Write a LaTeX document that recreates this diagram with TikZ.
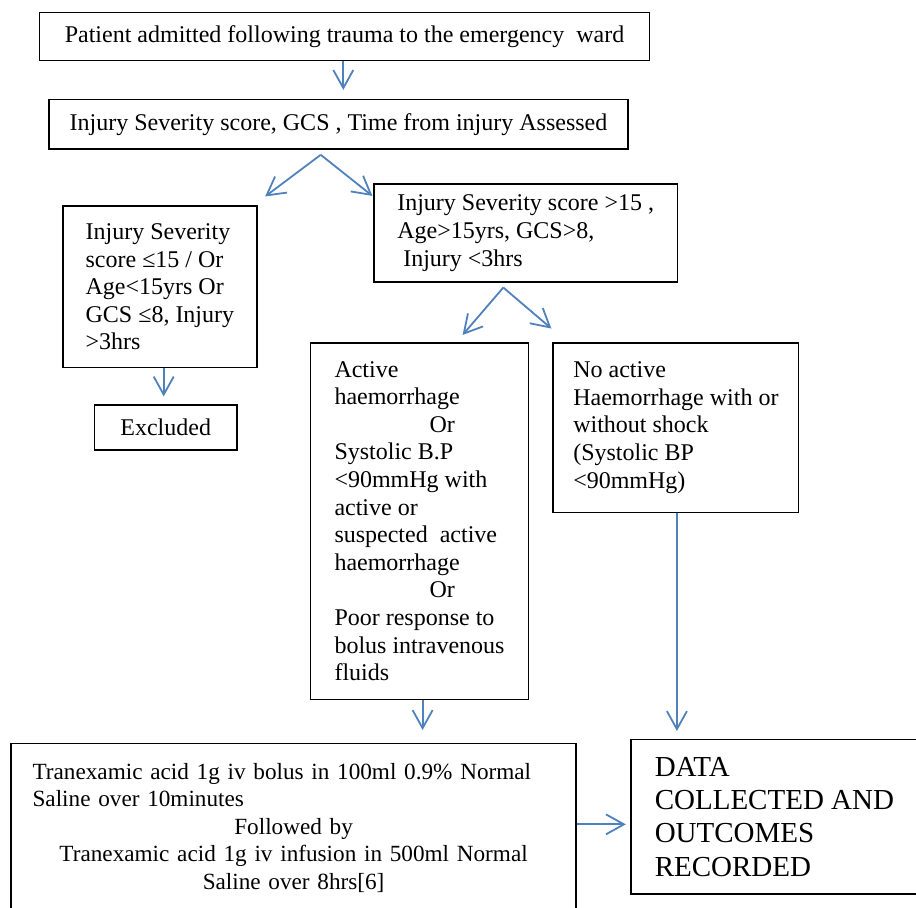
\documentclass[tikz,border=0pt]{standalone}
\usepackage{fontspec}
\setmainfont{Liberation Serif}
\usepackage{tikz}
\usetikzlibrary{arrows.meta, calc}
\definecolor{linkblue}{RGB}{79,129,189}
\tikzstyle{flowbox} = [rectangle, draw=black, line width=0.8pt, align=left, inner sep=4pt, font=\fontsize{12}{13.8}\selectfont]
\tikzstyle{arrow} = [draw=linkblue, line width=0.9pt, -{Straight Barb[length=9pt, width=10pt]}]

\begin{document}
\begin{tikzpicture}[node distance = 40pt]
  \useasboundingbox (0,0) rectangle (458pt,-454pt);
  \node (admit) [flowbox, align=center, minimum width=305pt, minimum height=24pt] at (172.25pt,-18.25pt) {Patient admitted following trauma to the emergency~ ward};
  \node (assess) [flowbox, align=center, minimum width=289.5pt, minimum height=24.75pt, below of = admit, xshift=-3pt, yshift=-3.875pt] {Injury Severity score, GCS , Time from injury Assessed};
  \node (excl) [flowbox, minimum width=96.85pt, minimum height=80.85pt, below of = assess, xshift=-89.3pt, yshift=-41.3pt] {Injury Severity\\score ≤15 / Or\\Age<15yrs Or\\GCS ≤8, Injury\\>3hrs};
  \node (incl) [flowbox, minimum width=151.75pt, minimum height=49pt, below of = assess, xshift=93.6pt, yshift=-14.4pt] {Injury Severity score >15 ,\\Age>15yrs, GCS>8,\\\ Injury <3hrs};
  \node (excluded) [flowbox, minimum width=71.35pt, minimum height=22.5pt, below of = excl, xshift=2.9pt, yshift=-30.3pt] {Excluded};
  \node (active) [flowbox, minimum width=108.9pt, minimum height=178.3pt, below of = incl, xshift=-53.1pt, yshift=-104pt] {Active\\haemorrhage\\\hspace*{47.5pt}Or\\Systolic B.P\\<90mmHg with\\active or\\suspected~ active\\haemorrhage\\\hspace*{47.5pt}Or\\Poor response to\\bolus intravenous\\fluids};
  \node (noactive) [flowbox, minimum width=122.7pt, minimum height=84.8pt, below of = incl, xshift=75.1pt, yshift=-57.25pt] {No active\\Haemorrhage with or\\without shock\\(Systolic BP\\<90mmHg)};
  \node (tranex) [flowbox, font=\fontsize{11.6}{13.8}\selectfont, align=center, text width=261pt, minimum width=282.35pt, minimum height=84.35pt, below of = active, xshift=-62.95pt, yshift=-113.35pt] {{\raggedright Tranexamic acid 1g iv bolus in 100ml 0.9\% Normal\\Saline over 10minutes\par}\centering Followed by\\Tranexamic acid 1g iv infusion in 500ml Normal\\Saline over 8hrs[6]};
  \node (data) [flowbox, font=\fontsize{14.5}{16.7}\selectfont, minimum width=143.5pt, minimum height=77.35pt, below of = noactive, xshift=49.25pt, yshift=-154.6pt] {DATA\\COLLECTED AND\\OUTCOMES\\RECORDED};
  \coordinate (fork1) at ($(assess.south)+(-8.9pt,-2.5pt)$);
  \coordinate (fork2) at ($(incl.south)+(-11.2pt,-2.35pt)$);
  \draw [arrow] ($(admit.south)+(-0.6pt,0)$) -- ($(admit.south |- assess.north)+(-0.6pt,4.4pt)$);
  \draw [arrow] (fork1) -- ($(excl.north east)+(3.8pt,4.35pt)$);
  \draw [arrow] (fork1) -- ($(incl.north west)+(-0.35pt,-6.35pt)$);
  \draw [arrow] ($(excl.south)+(1.9pt,0)$) -- ($(excl.south |- excluded.north)+(1.9pt,3.85pt)$);
  \draw [arrow] (fork2) -- ($(active.north)+(21.55pt,3.5pt)$);
  \draw [arrow] (fork2) -- ($(noactive.north west)+(-0.5pt,6.7pt)$);
  \draw [arrow] ($(active.south)+(1.55pt,0)$) -- ($(active.south |- tranex.north)+(1.55pt,6.3pt)$);
  \draw [arrow] ($(noactive.south)+(0.5pt,0)$) -- ($(noactive.south |- data.north)+(0.5pt,3.8pt)$);
  \draw [arrow] ($(tranex.east)+(0,1.7pt)$) -- ($(data.west |- tranex.east)+(-2.15pt,1.7pt)$);
\end{tikzpicture}
\end{document}
